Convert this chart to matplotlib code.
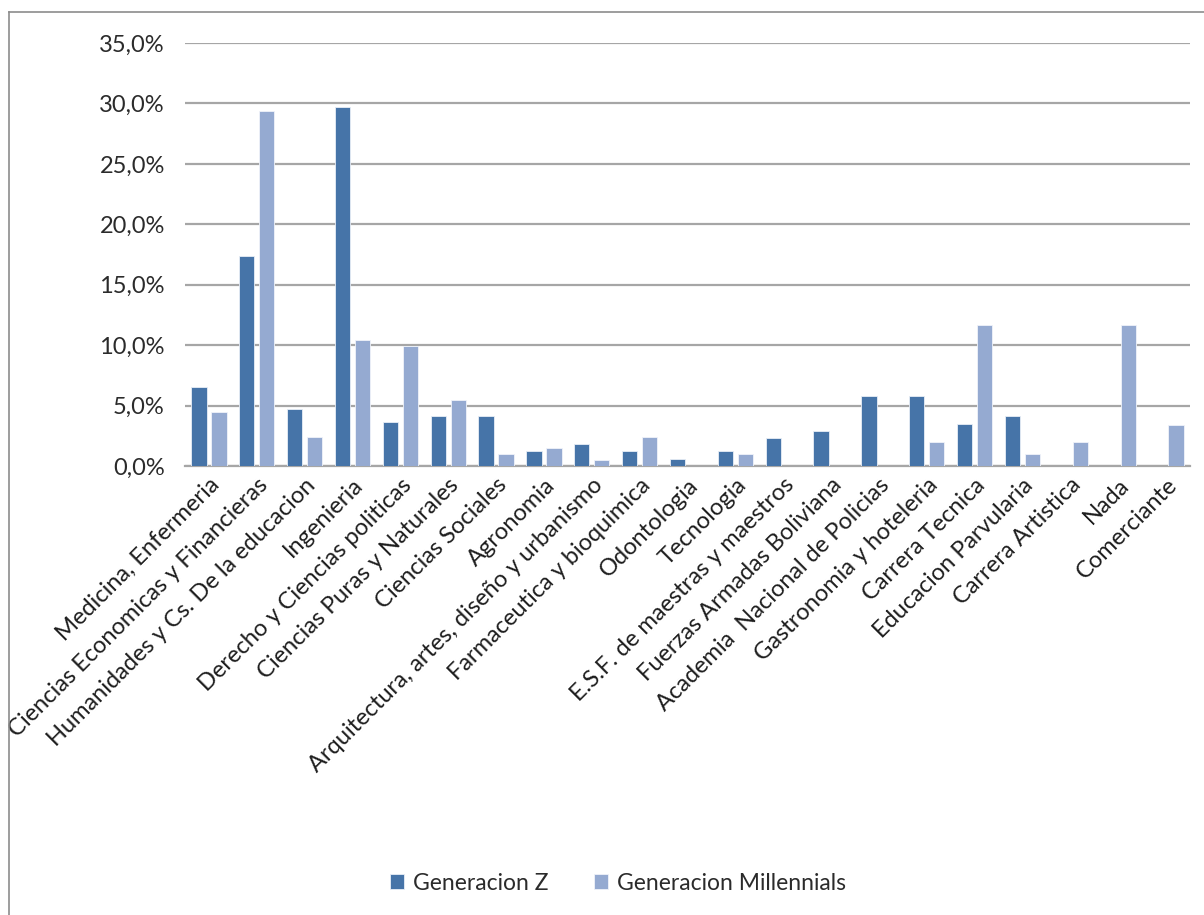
import numpy as np
import matplotlib.pyplot as plt
from matplotlib.lines import Line2D
from matplotlib.ticker import FuncFormatter

plt.rcParams['font.family'] = ['Lato', 'DejaVu Sans']

carreras = [
    "Medicina, Enfermeria",
    "Ciencias Economicas y Financieras",
    "Humanidades y Cs. De la educacion",
    "Ingenieria",
    "Derecho y Ciencias politicas",
    "Ciencias Puras y Naturales",
    "Ciencias Sociales",
    "Agronomia",
    "Arquitectura, artes, diseño y urbanismo",
    "Farmaceutica y bioquimica",
    "Odontologia",
    "Tecnologia",
    "E.S.F. de maestras y maestros",
    "Fuerzas Armadas Boliviana",
    "Academia  Nacional de Policias",
    "Gastronomia y hoteleria",
    "Carrera Tecnica",
    "Educacion Parvularia",
    "Carrera Artistica",
    "Nada",
    "Comerciante",
]

# porcentajes por generacion
gen_z = [6.5, 17.4, 4.7, 29.7, 3.6, 4.1, 4.1, 1.2, 1.8, 1.2, 0.6,
         1.2, 2.3, 2.9, 5.8, 5.8, 3.5, 4.1, 0.0, 0.0, 0.0]
gen_millennials = [4.5, 29.4, 2.4, 10.4, 9.9, 5.5, 1.0, 1.5, 0.5, 2.4, 0.0,
                   1.0, 0.0, 0.0, 0.0, 2.0, 11.7, 1.0, 2.0, 11.7, 3.4]

color_z = "#4674A8"
color_m = "#95AAD1"

fig = plt.figure(figsize=(12.04, 9.15), dpi=100)
ax = fig.add_axes([185 / 1204, 1 - 466 / 915, (1190 - 185) / 1204, (466 - 43) / 915])

x = np.arange(len(carreras))
w = 0.32
ax.bar(x - 0.21, gen_z, w, color=color_z, edgecolor="#E8EEF6", linewidth=0.6,
       label="Generacion Z", zorder=3)
ax.bar(x + 0.21, gen_millennials, w, color=color_m, edgecolor="#F0F3F9", linewidth=0.6,
       label="Generacion Millennials", zorder=3)

ax.set_xlim(-0.5, len(carreras) - 0.5)
ax.set_ylim(0, 35)
ax.set_yticks(np.arange(0, 36, 5))
ax.yaxis.set_major_formatter(FuncFormatter(lambda v, p: f"{v:.1f}%".replace(".", ",")))
ax.yaxis.grid(True, color="#A6A6A6", linewidth=1.6, zorder=0)
ax.tick_params(axis="y", length=0, pad=14.5, labelsize=17, labelcolor="#2B2B2B")
ax.tick_params(axis="x", length=0, pad=6, labelsize=17, labelcolor="#1E1E1E")

for s in ["top", "right", "left"]:
    ax.spines[s].set_visible(False)
ax.spines["bottom"].set_color("#A6A6A6")
ax.spines["bottom"].set_linewidth(1.6)

ax.set_xticks(x)
ax.set_xticklabels(carreras, rotation=45, ha="right", rotation_mode="anchor")

ax.legend(loc="center", bbox_to_anchor=(618 / 1204, 1 - 883 / 915),
          bbox_transform=fig.transFigure, ncol=2, frameon=False, fontsize=16.5,
          handlelength=0.6, handleheight=0.6, handletextpad=0.4, columnspacing=2.0,
          labelcolor="#2B2B2B")

# marco del grafico
fig.add_artist(Line2D([9 / 1204, 1], [1 - 12 / 915, 1 - 12 / 915], color="#8C8C8C", linewidth=1.2))
fig.add_artist(Line2D([9 / 1204, 9 / 1204], [0, 1 - 12 / 915], color="#8C8C8C", linewidth=1.2))

fig.savefig("out.png", dpi=100)
